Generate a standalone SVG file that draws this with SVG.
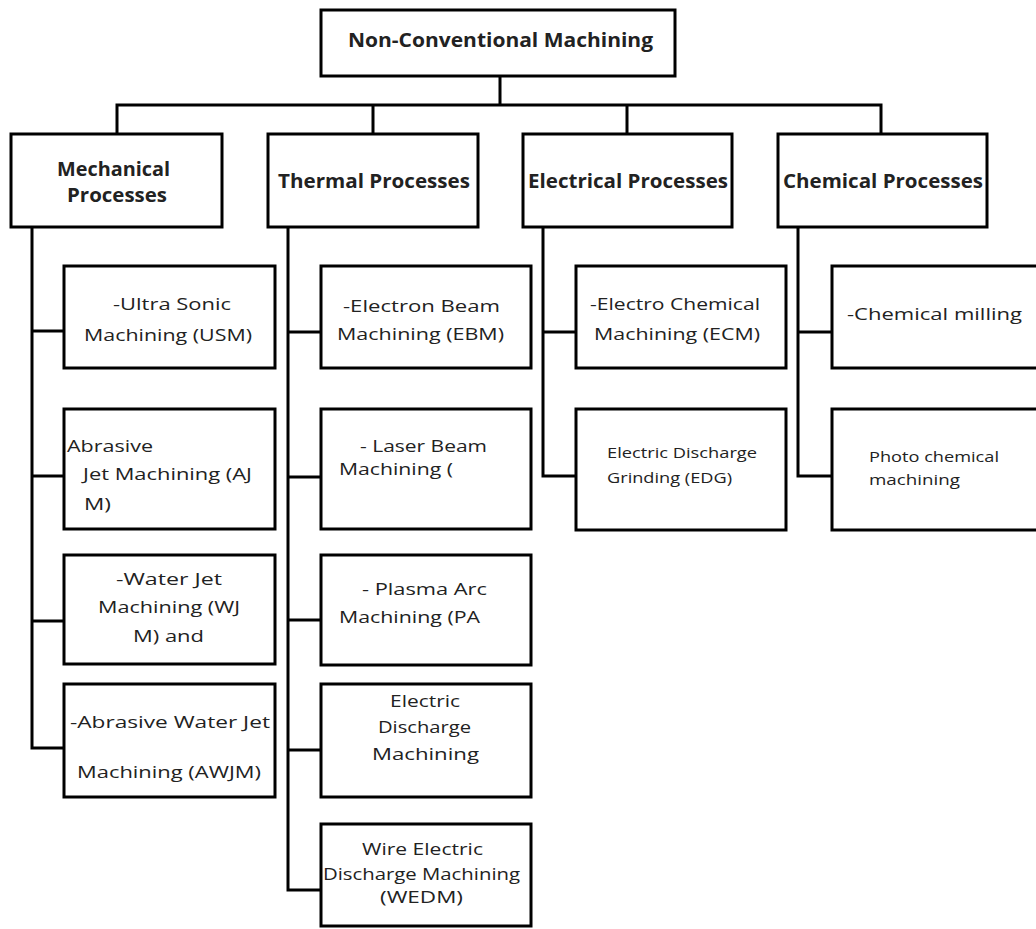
<svg xmlns="http://www.w3.org/2000/svg" width="1036" height="929" viewBox="0 0 1036 929">
<style>
.box{fill:#fff;stroke:#000;stroke-width:3}
.con{fill:none;stroke:#000;stroke-width:3;stroke-linejoin:miter}
text{font-family:"Open Sans",Lato,"Liberation Sans",sans-serif;fill:#222}
.b{font-weight:bold;font-size:19px}
.r{font-size:17px}
.s{font-size:14.5px}
</style>
<rect width="1036" height="929" fill="#fff"/>
<g id="connectors">
<path class="con" d="M500 77V105M117 134V105H881V134M373 105V134M627 105V134"/>
<path class="con" d="M32 227V748H64M32 331H64M32 476H64M32 621H64"/>
<path class="con" d="M288 227V890H321M288 332H321M288 477H321M288 620H321M288 750H321"/>
<path class="con" d="M543 227V476H576M543 332H576"/>
<path class="con" d="M798 227V476H832M798 332H832"/>
</g>
<g id="root"><rect class="box" x="321" y="10" width="354" height="66"/><text class="b" x="348" y="47" textLength="305" lengthAdjust="spacingAndGlyphs">Non-Conventional Machining</text></g>
<g id="mechanical"><rect class="box" x="11" y="134" width="211" height="93"/><text class="b" x="57" y="176" textLength="113" lengthAdjust="spacingAndGlyphs">Mechanical</text><text class="b" x="67" y="202" textLength="100" lengthAdjust="spacingAndGlyphs">Processes</text></g>
<g id="thermal"><rect class="box" x="268" y="134" width="210" height="93"/><text class="b" x="278" y="188" textLength="192" lengthAdjust="spacingAndGlyphs">Thermal Processes</text></g>
<g id="electrical"><rect class="box" x="523" y="134" width="209" height="93"/><text class="b" x="528" y="188" textLength="200" lengthAdjust="spacingAndGlyphs">Electrical Processes</text></g>
<g id="chemical"><rect class="box" x="778" y="134" width="209" height="93"/><text class="b" x="783" y="188" textLength="200" lengthAdjust="spacingAndGlyphs">Chemical Processes</text></g>
<g id="usm"><rect class="box" x="64" y="266" width="211" height="102"/><text class="r" x="113" y="310" textLength="118" lengthAdjust="spacingAndGlyphs">-Ultra Sonic</text><text class="r" x="84" y="341" textLength="168" lengthAdjust="spacingAndGlyphs">Machining (USM)</text></g>
<g id="ajm"><rect class="box" x="64" y="409" width="211" height="120"/><text class="r" x="67" y="452" textLength="86" lengthAdjust="spacingAndGlyphs">Abrasive</text><text class="r" x="83" y="480" textLength="169" lengthAdjust="spacingAndGlyphs">Jet Machining (AJ</text><text class="r" x="84" y="510" textLength="27" lengthAdjust="spacingAndGlyphs">M)</text></g>
<g id="wjm"><rect class="box" x="64" y="555" width="211" height="109"/><text class="r" x="116" y="585" textLength="106" lengthAdjust="spacingAndGlyphs">-Water Jet</text><text class="r" x="98" y="613" textLength="142" lengthAdjust="spacingAndGlyphs">Machining (WJ</text><text class="r" x="133" y="642" textLength="71" lengthAdjust="spacingAndGlyphs">M) and</text></g>
<g id="awjm"><rect class="box" x="64" y="684" width="211" height="113"/><text class="r" x="70" y="728" textLength="200" lengthAdjust="spacingAndGlyphs">-Abrasive Water Jet</text><text class="r" x="77" y="778" textLength="184" lengthAdjust="spacingAndGlyphs">Machining (AWJM)</text></g>
<g id="ebm"><rect class="box" x="321" y="266" width="210" height="102"/><text class="r" x="343" y="312" textLength="157" lengthAdjust="spacingAndGlyphs">-Electron Beam</text><text class="r" x="337" y="340" textLength="167" lengthAdjust="spacingAndGlyphs">Machining (EBM)</text></g>
<g id="lbm"><rect class="box" x="321" y="409" width="210" height="120"/><text class="r" x="360" y="452" textLength="127" lengthAdjust="spacingAndGlyphs">- Laser Beam</text><text class="r" x="339" y="475" textLength="114" lengthAdjust="spacingAndGlyphs">Machining (</text></g>
<g id="pam"><rect class="box" x="321" y="555" width="210" height="110"/><text class="r" x="362" y="595" textLength="125" lengthAdjust="spacingAndGlyphs">- Plasma Arc</text><text class="r" x="339" y="623" textLength="141" lengthAdjust="spacingAndGlyphs">Machining (PA</text></g>
<g id="edm"><rect class="box" x="321" y="684" width="210" height="113"/><text class="r" x="390" y="707" textLength="70" lengthAdjust="spacingAndGlyphs">Electric</text><text class="r" x="378" y="733" textLength="93" lengthAdjust="spacingAndGlyphs">Discharge</text><text class="r" x="372" y="760" textLength="107" lengthAdjust="spacingAndGlyphs">Machining</text></g>
<g id="wedm"><rect class="box" x="321" y="824" width="210" height="102"/><text class="r" x="362" y="855" textLength="121" lengthAdjust="spacingAndGlyphs">Wire Electric</text><text class="r" x="323" y="880" textLength="197" lengthAdjust="spacingAndGlyphs">Discharge Machining</text><text class="r" x="380" y="903" textLength="83" lengthAdjust="spacingAndGlyphs">(WEDM)</text></g>
<g id="ecm"><rect class="box" x="576" y="266" width="210" height="102"/><text class="r" x="590" y="310" textLength="170" lengthAdjust="spacingAndGlyphs">-Electro Chemical</text><text class="r" x="594" y="340" textLength="166" lengthAdjust="spacingAndGlyphs">Machining (ECM)</text></g>
<g id="edg"><rect class="box" x="576" y="409" width="210" height="121"/><text class="s" x="607" y="458" textLength="150" lengthAdjust="spacingAndGlyphs">Electric Discharge</text><text class="s" x="607" y="483" textLength="125" lengthAdjust="spacingAndGlyphs">Grinding (EDG)</text></g>
<g id="cm"><rect class="box" x="832" y="266" width="220" height="102"/><text class="r" x="847" y="320" textLength="175" lengthAdjust="spacingAndGlyphs">-Chemical milling</text></g>
<g id="pcm"><rect class="box" x="832" y="409" width="220" height="121"/><text class="s" x="869" y="462" textLength="130" lengthAdjust="spacingAndGlyphs">Photo chemical</text><text class="s" x="869" y="485" textLength="91" lengthAdjust="spacingAndGlyphs">machining</text></g>
</svg>
